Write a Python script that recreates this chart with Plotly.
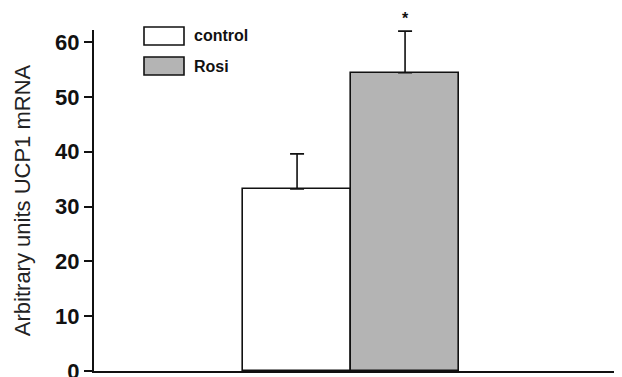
import plotly.graph_objects as go

groups = ["control", "Rosi"]
values = [33.2, 54.4]
errors = [6.4, 7.6]
colors = ["#ffffff", "#b4b4b4"]
yticks = [0, 10, 20, 30, 40, 50, 60]

# page has an 8px body margin; figure sits at (8, 8)
OFF = 8
FW, FH = 622 - OFF, 377 - OFF
L, R, T, B = 94 - OFF, 2, 30 - OFF, 6

fig = go.Figure()
for i, (g, v, e, c) in enumerate(zip(groups, values, errors, colors)):
    fig.add_trace(go.Bar(
        x=[i], y=[v], width=1, name=g,
        marker=dict(color=c, line=dict(color="#111111", width=1.6)),
        error_y=dict(type="data", array=[e], arrayminus=[0], symmetric=False,
                     color="#111111", thickness=1.6, width=7),
        showlegend=False,
    ))

fig.add_annotation(x=1, y=values[1] + errors[1], text="<b>*</b>", showarrow=False,
                   yshift=13, font=dict(family="Liberation Sans", size=16, color="#111"))

fig.update_layout(
    width=FW, height=FH,
    margin=dict(l=L, r=R, t=T, b=B, autoexpand=False),
    plot_bgcolor="white", paper_bgcolor="white",
    bargap=0,
    xaxis=dict(range=[-1.88, 2.99], showticklabels=False, ticks="",
               showline=True, linecolor="#111", linewidth=2, showgrid=False,
               zeroline=False, fixedrange=True, automargin=False),
    yaxis=dict(range=[0, 62.2], tickvals=yticks, ticks="outside", ticklen=8,
               tickwidth=1.5, tickcolor="#111", showline=True, linecolor="#111",
               linewidth=2, showgrid=False, zeroline=False, automargin=False,
               ticklabeloverflow="allow",
               tickfont=dict(family="Liberation Sans", size=22, color="#111", weight="bold"),
               title=dict(text="Arbitrary units UCP1 mRNA", standoff=18,
                          font=dict(family="Liberation Sans", size=22, color="#222"))),
)

H = FH - T - B
W = FW - L - R
def px(x):
    return (x - OFF - L) / W
def py(y):
    return (FH - B - (y - OFF)) / H

for k, (g, c) in enumerate(zip(groups, colors)):
    top = 27 + k * 30
    fig.add_shape(type="rect", xref="paper", yref="paper",
                  x0=px(144), x1=px(184), y0=py(top + 18), y1=py(top),
                  line=dict(color="#111", width=1.6), fillcolor=c)
    fig.add_annotation(xref="paper", yref="paper", x=px(192), y=py(top + 9),
                       xanchor="left", yanchor="middle", showarrow=False,
                       text="<b>%s</b>" % g,
                       font=dict(family="Liberation Sans", size=16, color="#111"))

fig.write_html("out.html")
